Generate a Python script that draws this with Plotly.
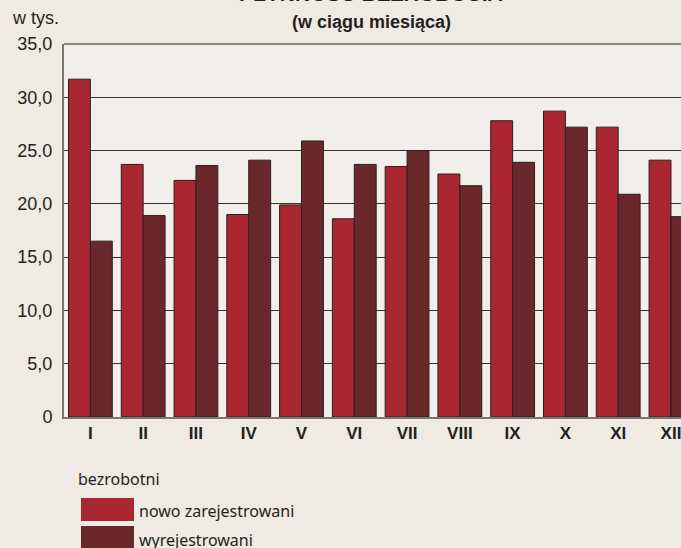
import plotly.graph_objects as go

months = ["I", "II", "III", "IV", "V", "VI", "VII", "VIII", "IX", "X", "XI", "XII"]
nowo_zarejestrowani = [31.7, 23.7, 22.2, 19.0, 19.9, 18.6, 23.5, 22.8, 27.8, 28.7, 27.2, 24.1]
wyrejestrowani = [16.5, 18.9, 23.6, 24.1, 25.9, 23.7, 25.0, 21.7, 23.9, 27.2, 20.9, 18.8]
y_tick_vals = [0, 5, 10, 15, 20, 25, 30, 35]
y_tick_text = ["0", "5,0", "10,0", "15,0", "20,0", "25.0", "30,0", "35,0"]

RED = "#aa2630"
DARK = "#6a282b"
OUTLINE = "#2b2020"

W, H = 681, 548
L, R, T, B = 64, 0, 44, 131
ph = H - T - B

def py(px):
    return (H - B - px) / ph

def pxx(x):
    return (x - L) / (W - L - R)

fig = go.Figure()
fig.add_trace(go.Bar(x=months, y=nowo_zarejestrowani, name="nowo zarejestrowani",
                     marker=dict(color=RED, line=dict(color=OUTLINE, width=1))))
fig.add_trace(go.Bar(x=months, y=wyrejestrowani, name="wyrejestrowani",
                     marker=dict(color=DARK, line=dict(color=OUTLINE, width=1))))

fig.update_layout(
    width=W, height=H,
    margin=dict(l=L, r=R, t=T, b=B, pad=0),
    paper_bgcolor="#efeae3",
    plot_bgcolor="#f2eee9",
    barmode="group", bargap=0.17, bargroupgap=0,
    showlegend=False,
    font=dict(family="Liberation Sans, Arial, sans-serif", color="#231f20"),
    xaxis=dict(range=[-0.5, 11.19], showgrid=False, showline=True, linecolor="#7a7570",
               linewidth=2, ticks="", tickfont=dict(size=17, family="Liberation Sans, Arial", color="#231f20"),
               ticklabelstandoff=0, fixedrange=True),
    yaxis=dict(range=[0, 35], tickvals=y_tick_vals, ticktext=y_tick_text, showgrid=True,
               gridcolor="#333333", gridwidth=1, zeroline=False, showline=True,
               linecolor="#7a7570", linewidth=2, ticks="",
               tickfont=dict(size=18, family="Liberation Sans, Arial", color="#231f20"),
               ticklabelstandoff=6, fixedrange=True),
)
fig.update_xaxes(tickprefix="<b>", ticksuffix="</b>")

# top border of plot
fig.add_shape(type="line", xref="paper", yref="paper", x0=0, x1=1, y0=1, y1=1,
              line=dict(color="#8a8580", width=2))

# titles
fig.add_annotation(text="<b>PŁYNNOŚĆ BEZROBOCIA</b>", xref="paper", yref="paper",
                   x=pxx(371), y=py(-6), xanchor="center", yanchor="middle", showarrow=False,
                   font=dict(size=21, family="Liberation Sans, Arial", color="#231f20"))
fig.add_annotation(text="<b>(w ciągu miesiąca)</b>", xref="paper", yref="paper",
                   x=pxx(371), y=py(22), xanchor="center", yanchor="middle", showarrow=False,
                   font=dict(size=18, family="Liberation Sans, Arial", color="#231f20"))
fig.add_annotation(text="w tys.", xref="paper", yref="paper",
                   x=pxx(10), y=py(18), xanchor="left", yanchor="middle", showarrow=False,
                   font=dict(size=18, family="Liberation Sans, Arial", color="#231f20"))

# custom legend
leg_font = dict(size=16, family="Noto Sans, Open Sans, sans-serif", color="#231f20")
fig.add_annotation(text="bezrobotni", xref="paper", yref="paper",
                   x=pxx(76), y=py(479), xanchor="left", yanchor="middle", showarrow=False,
                   font=leg_font)
fig.add_shape(type="rect", xref="paper", yref="paper", x0=pxx(81), x1=pxx(134),
              y0=py(521), y1=py(498), fillcolor=RED, line=dict(width=0))
fig.add_shape(type="rect", xref="paper", yref="paper", x0=pxx(81), x1=pxx(134),
              y0=py(552), y1=py(526), fillcolor=DARK, line=dict(width=0))
fig.add_annotation(text="nowo zarejestrowani", xref="paper", yref="paper",
                   x=pxx(137), y=py(511), xanchor="left", yanchor="middle", showarrow=False,
                   font=leg_font)
fig.add_annotation(text="wyrejestrowani", xref="paper", yref="paper",
                   x=pxx(137), y=py(540), xanchor="left", yanchor="middle", showarrow=False,
                   font=leg_font)

fig.write_html("out.html", config={"displayModeBar": False},
               post_script="document.body.style.margin='0';document.body.style.overflow='hidden';")
